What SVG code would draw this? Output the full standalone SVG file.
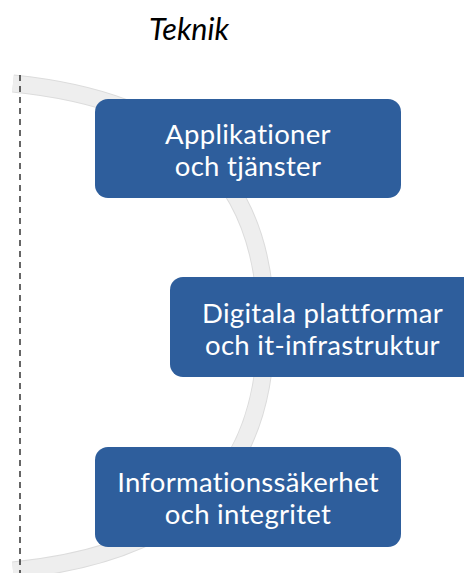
<svg xmlns="http://www.w3.org/2000/svg" width="464" height="573" viewBox="0 0 464 573">
<defs>
<style>
.box{fill:#2e5e9c;}
.lbl{font-family:Lato,"Open Sans","Liberation Sans",sans-serif;font-size:27.5px;fill:#ffffff;text-anchor:middle;letter-spacing:0.3px;}
.title{font-family:Lato,"Liberation Sans",sans-serif;font-style:italic;font-size:30.5px;fill:#000000;text-anchor:middle;}
.arcEdge{fill:none;stroke:#dcdcdc;stroke-width:18;}
.arcFill{fill:none;stroke:#eeeeee;stroke-width:16;}
</style>
</defs>
<rect width="464" height="573" fill="#ffffff"/>
<text class="title" x="189" y="40">Teknik</text>
<g id="connectors">
<path class="arcEdge" d="M13 83.5 C183 100.5 266 177 266 327 C266 477 183 553.5 13 570.5"/>
<path class="arcFill" d="M13 83.5 C183 100.5 266 177 266 327 C266 477 183 553.5 13 570.5"/>
<line x1="20" y1="75" x2="20" y2="573" stroke="#000000" stroke-width="1.2" stroke-dasharray="6 5"/>
</g>
<g id="node1">
<rect class="box" x="95" y="99" width="306" height="99" rx="13"/>
<text class="lbl" x="248" y="143.5">Applikationer</text>
<text class="lbl" x="248" y="176">och tjänster</text>
</g>
<g id="node2">
<rect class="box" x="170" y="277" width="310" height="100" rx="13"/>
<text class="lbl" x="322.5" y="322.5">Digitala plattformar</text>
<text class="lbl" x="322.5" y="355">och it-infrastruktur</text>
</g>
<g id="node3">
<rect class="box" x="95" y="447" width="306" height="100" rx="13"/>
<text class="lbl" x="248" y="491.5">Informationssäkerhet</text>
<text class="lbl" x="248" y="524">och integritet</text>
</g>
</svg>
